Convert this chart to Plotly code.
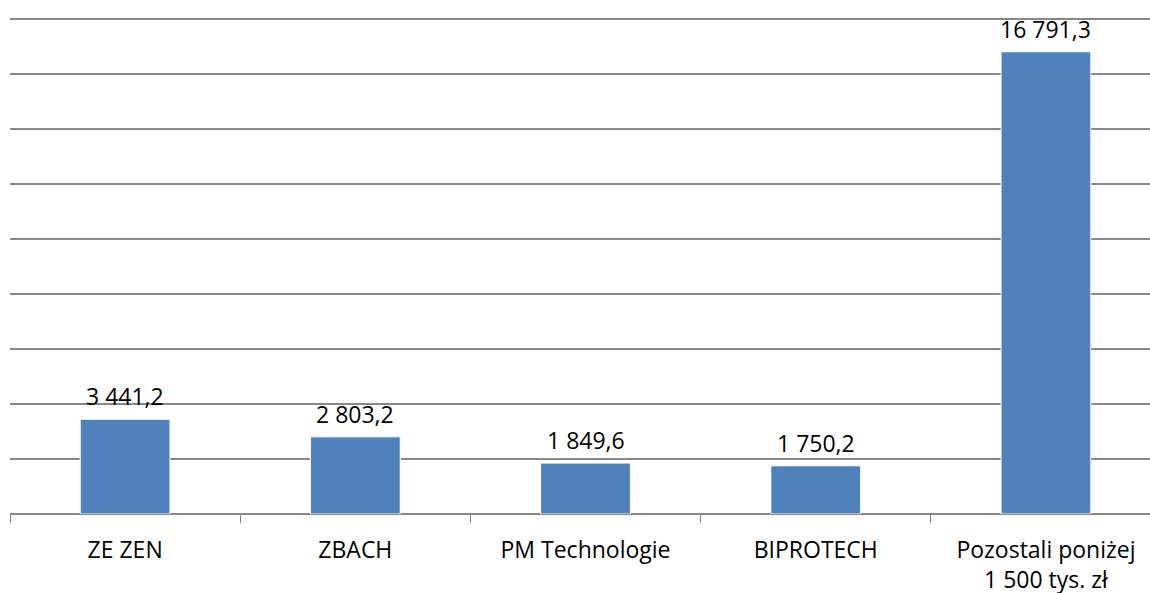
import plotly.graph_objects as go

categories = ["ZE ZEN", "ZBACH", "PM Technologie", "BIPROTECH", "Pozostali poniżej<br>1 500 tys. zł"]
values = [3441.2, 2803.2, 1849.6, 1750.2, 16791.3]

def fmt(v):
    s = f"{v:,.1f}"
    return s.replace(",", " ").replace(".", ",")

labels = [fmt(v) for v in values]
FONT = "Open Sans"
FS = 23

fig = go.Figure()
fig.add_trace(go.Bar(
    x=categories, y=values,
    marker=dict(color="#4f81bd", line=dict(color="#ffffff", width=1)),
    width=0.39,
))
for c, v, t in zip(categories, values, labels):
    fig.add_annotation(x=c, y=v, text=t, showarrow=False, yanchor="bottom",
                       yshift=5, font=dict(family=FONT, size=FS, color="#000000"))

fig.update_layout(
    width=1150, height=593,
    margin=dict(l=10, r=0, t=13, b=79),
    paper_bgcolor="white", plot_bgcolor="white",
    showlegend=False,
    font=dict(family=FONT, size=FS, color="#000000"),
    xaxis=dict(
        type="category", range=[-0.5, 4.452], automargin=False,
        tickson="boundaries", ticks="outside", ticklen=8, tickcolor="#888888",
        tickwidth=1, showline=False, showgrid=False,
        tickfont=dict(family=FONT, size=FS, color="#000000"),
        ticklabelstandoff=20,
    ),
    yaxis=dict(
        range=[0, 18200], dtick=2000, showticklabels=False, automargin=False,
        showgrid=True, gridcolor="#888888", gridwidth=1.5,
        zeroline=True, zerolinecolor="#888888", zerolinewidth=1.5,
        showline=False, ticks="",
    ),
)
fig.write_html("out.html", config={"displayModeBar": False},
               post_script="document.body.style.margin='0';document.body.style.overflow='hidden';")
